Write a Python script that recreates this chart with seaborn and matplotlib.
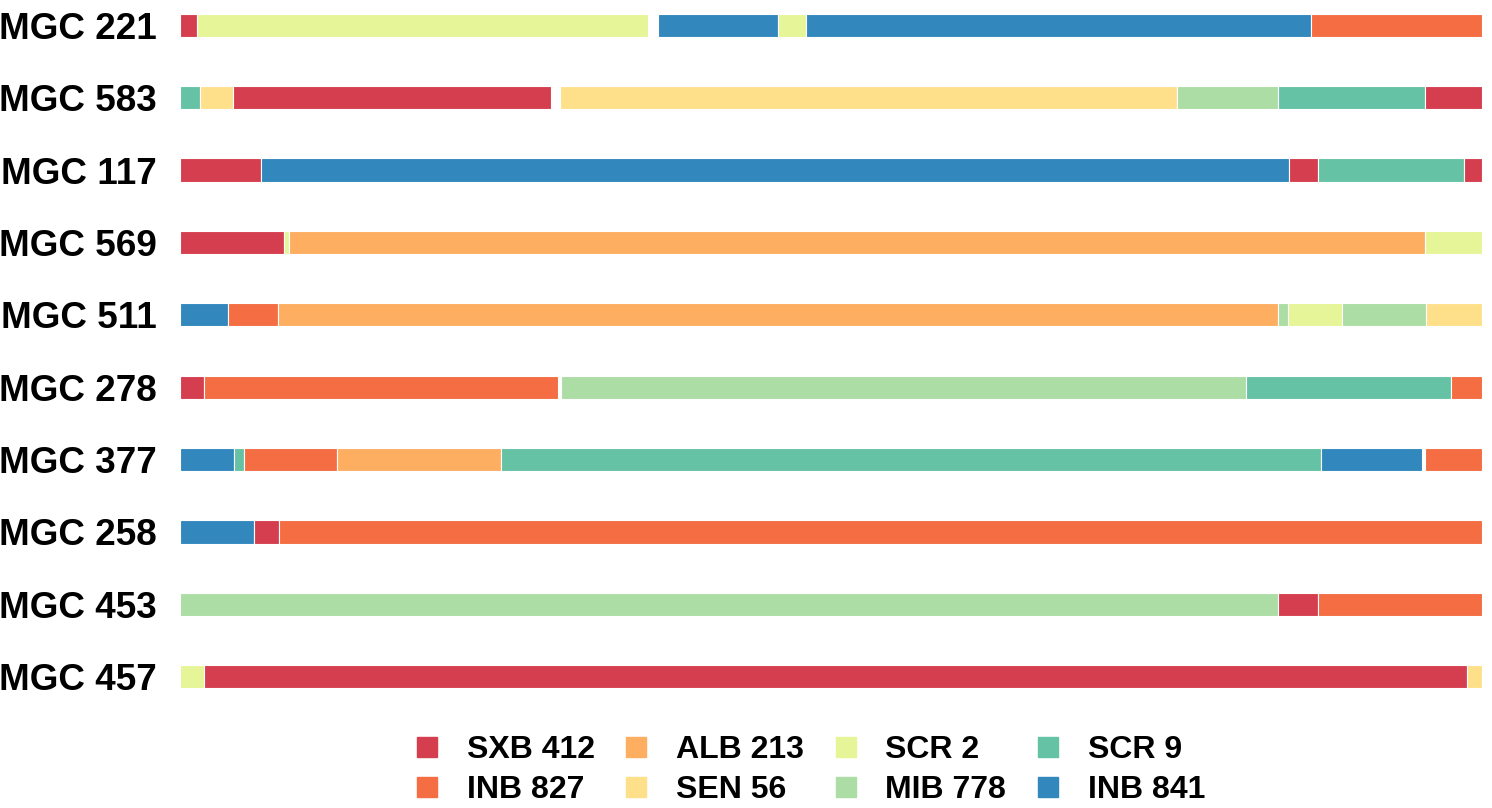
import matplotlib
matplotlib.use("Agg")
import matplotlib.pyplot as plt
from matplotlib.lines import Line2D
import seaborn as sns
import pandas as pd

# sample names, top to bottom
samples = ['MGC 221', 'MGC 583', 'MGC 117', 'MGC 569', 'MGC 511',
           'MGC 278', 'MGC 377', 'MGC 258', 'MGC 453', 'MGC 457']

# ancestry sources (legend order)
sources = ['SXB 412', 'INB 827', 'ALB 213', 'SEN 56',
           'SCR 2', 'MIB 778', 'SCR 9', 'INB 841']

chrom_len = 130.2

# segments per sample: (start, end, source)
mgc221 = [(0, 1.7, 'SXB 412'), (1.7, 46.8, 'SCR 2'), (47.8, 59.8, 'INB 841'),
          (59.8, 62.6, 'SCR 2'), (62.6, 113.1, 'INB 841'), (113.1, 130.2, 'INB 827')]
mgc583 = [(0, 2.0, 'SCR 9'), (2.0, 5.3, 'SEN 56'), (5.3, 37.1, 'SXB 412'),
          (38.0, 99.7, 'SEN 56'), (99.7, 109.8, 'MIB 778'), (109.8, 124.5, 'SCR 9'),
          (124.5, 130.2, 'SXB 412')]
mgc117 = [(0, 8.1, 'SXB 412'), (8.1, 110.9, 'INB 841'), (110.9, 113.8, 'SXB 412'),
          (113.8, 128.4, 'SCR 9'), (128.4, 130.2, 'SXB 412')]
mgc569 = [(0, 10.4, 'SXB 412'), (10.4, 10.9, 'SCR 2'), (10.9, 124.5, 'ALB 213'),
          (124.5, 130.2, 'SCR 2')]
mgc511 = [(0, 4.8, 'INB 841'), (4.8, 9.8, 'INB 827'), (9.8, 109.8, 'ALB 213'),
          (109.8, 110.8, 'MIB 778'), (110.8, 116.2, 'SCR 2'), (116.2, 124.6, 'MIB 778'),
          (124.6, 130.2, 'SEN 56')]
mgc278 = [(0, 2.4, 'SXB 412'), (2.4, 37.8, 'INB 827'), (38.1, 106.6, 'MIB 778'),
          (106.6, 127.1, 'SCR 9'), (127.1, 130.2, 'INB 827')]
mgc377 = [(0, 5.4, 'INB 841'), (5.4, 6.4, 'SCR 9'), (6.4, 15.7, 'INB 827'),
          (15.7, 32.1, 'ALB 213'), (32.1, 114.1, 'SCR 9'), (114.1, 124.2, 'INB 841'),
          (124.5, 130.2, 'INB 827')]
mgc258 = [(0, 7.4, 'INB 841'), (7.4, 9.9, 'SXB 412'), (9.9, 130.2, 'INB 827')]
mgc453 = [(0, 109.8, 'MIB 778'), (109.8, 113.8, 'SXB 412'), (113.8, 130.2, 'INB 827')]
mgc457 = [(0, 2.4, 'SCR 2'), (2.4, 128.7, 'SXB 412'), (128.7, 130.2, 'SEN 56')]

segments = [mgc221, mgc583, mgc117, mgc569, mgc511,
            mgc278, mgc377, mgc258, mgc453, mgc457]

rows = []
for i, (name, segs) in enumerate(zip(samples, segments)):
    for start, end, src in segs:
        rows.append({'sample': name, 'row': i, 'start': start, 'end': end, 'source': src})
df = pd.DataFrame(rows)

sns.set_theme(style='white')
plt.rcParams['font.family'] = ['Liberation Sans', 'DejaVu Sans']
plt.rcParams['font.weight'] = 'bold'
plt.rcParams['text.color'] = 'black'
plt.rcParams['ytick.color'] = 'black'

# ColorBrewer Spectral, 8 classes
spectral8 = ['#D53E4F', '#F46D43', '#FDAE61', '#FEE08B',
             '#E6F598', '#ABDDA4', '#66C2A5', '#3288BD']
palette = dict(zip(sources, sns.color_palette(spectral8)))

fig = plt.figure(figsize=(14.92, 8.08), dpi=100)
ax = fig.add_axes([180 / 1492, 1 - 692 / 808, 1302 / 1492, 682 / 808])

ax.barh(df['row'], df['end'] - df['start'], left=df['start'], height=0.32,
        color=[palette[s] for s in df['source']], edgecolor='white', linewidth=0.8)

ax.set_xlim(0, chrom_len)
ax.set_ylim(9.21, -0.21)
ax.set_yticks(range(len(samples)))
ax.set_yticklabels(samples, fontsize=26.6, fontweight='bold', color='black')
ax.tick_params(axis='y', length=0, pad=16.5)
ax.set_xticks([])
sns.despine(ax=ax, left=True, bottom=True)

handles = [Line2D([0], [0], marker='s', linestyle='', markersize=15,
                  markerfacecolor=palette[s], markeredgecolor=palette[s]) for s in sources]
fig.legend(handles, sources, ncol=4, loc='center', bbox_to_anchor=(808 / 1492, 1 - 770 / 808),
           frameon=False, prop={'size': 23, 'weight': 'bold'},
           handlelength=1.0, handletextpad=0.75, columnspacing=0.8, labelspacing=0.3)

fig.savefig('out.png', dpi=100)
